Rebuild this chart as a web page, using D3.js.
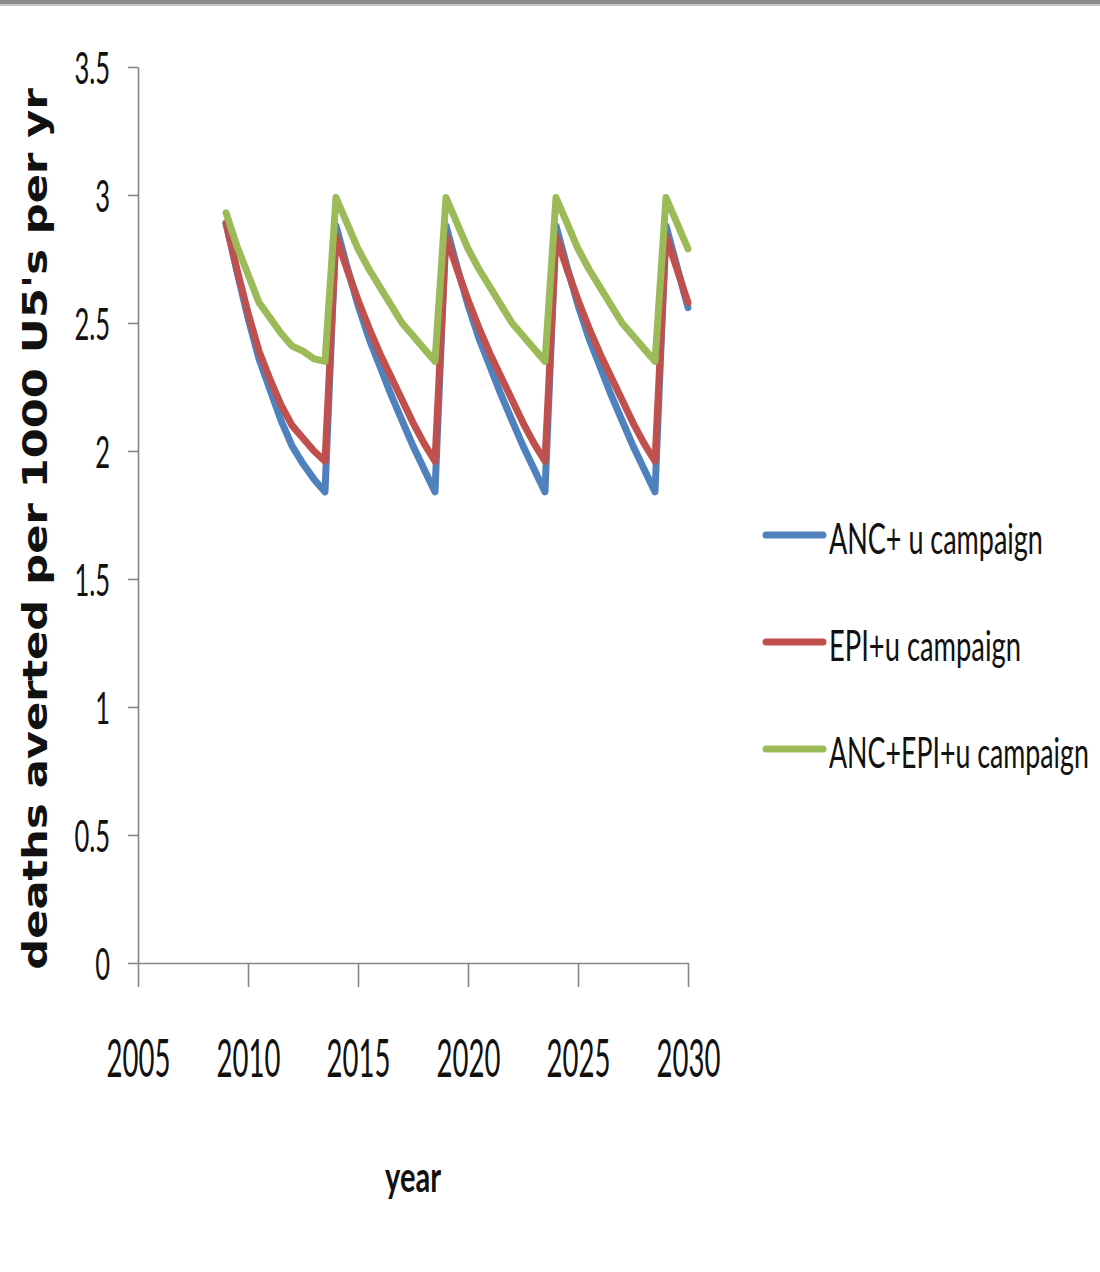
<!DOCTYPE html>
<html>
<head>
<meta charset="utf-8">
<script src="https://cdn.jsdelivr.net/npm/d3@7/dist/d3.min.js"></script>
<style>
  html, body { margin: 0; padding: 0; background: #fff; }
  svg { display: block; }
</style>
</head>
<body>
<svg id="chart" width="1100" height="1272"></svg>
<script>
// ---- data ----
const years = [2009, 2009.5, 2010, 2010.5, 2011, 2011.5, 2012, 2012.5, 2013, 2013.5,
               2014, 2014.5, 2015, 2015.5, 2016, 2016.5, 2017, 2017.5, 2018, 2018.5,
               2019, 2019.5, 2020, 2020.5, 2021, 2021.5, 2022, 2022.5, 2023, 2023.5,
               2024, 2024.5, 2025, 2025.5, 2026, 2026.5, 2027, 2027.5, 2028, 2028.5,
               2029, 2029.5, 2030];
const ancValues = [2.89, 2.70, 2.52, 2.36, 2.24, 2.12, 2.02, 1.95, 1.89, 1.84,
                   2.88, 2.72, 2.57, 2.44, 2.33, 2.22, 2.12, 2.02, 1.93, 1.84,
                   2.88, 2.72, 2.57, 2.44, 2.33, 2.22, 2.12, 2.02, 1.93, 1.84,
                   2.88, 2.72, 2.57, 2.44, 2.33, 2.22, 2.12, 2.02, 1.93, 1.84,
                   2.88, 2.72, 2.56];
const epiValues = [2.89, 2.71, 2.54, 2.39, 2.28, 2.18, 2.10, 2.05, 2.00, 1.96,
                   2.84, 2.71, 2.59, 2.48, 2.38, 2.29, 2.20, 2.11, 2.03, 1.96,
                   2.84, 2.71, 2.59, 2.48, 2.38, 2.29, 2.20, 2.11, 2.03, 1.96,
                   2.84, 2.71, 2.59, 2.48, 2.38, 2.29, 2.20, 2.11, 2.03, 1.96,
                   2.84, 2.71, 2.58];
const bothValues = [2.93, 2.80, 2.69, 2.58, 2.52, 2.46, 2.41, 2.39, 2.36, 2.35,
                    2.99, 2.89, 2.79, 2.71, 2.64, 2.57, 2.50, 2.45, 2.40, 2.35,
                    2.99, 2.89, 2.79, 2.71, 2.64, 2.57, 2.50, 2.45, 2.40, 2.35,
                    2.99, 2.89, 2.79, 2.71, 2.64, 2.57, 2.50, 2.45, 2.40, 2.35,
                    2.99, 2.89, 2.79];
const seriesNames = ["ANC+ u campaign", "EPI+u campaign", "ANC+EPI+u campaign"];
const seriesColors = ["#4F81BD", "#C0504D", "#9BBB59"];
const xTicks = [2005, 2010, 2015, 2020, 2025, 2030];
const yTicks = [0, 0.5, 1, 1.5, 2, 2.5, 3, 3.5];
const yTickLabels = ["0", "0.5", "1", "1.5", "2", "2.5", "3", "3.5"];
const xTitle = "year";
const yTitle = "deaths averted per 1000 U5's per yr";

// ---- chart ----
const svg = d3.select("#chart");
const axisColor = "#868686";
const labelFont = "Lato, 'Open Sans', sans-serif";

// fit a text horizontally to a target width by scaling its glyphs
function fitText(sel, tx, ty, width, rotate) {
  const natural = sel.node().getComputedTextLength();
  const sx = width / natural;
  sel.attr("transform", `translate(${tx},${ty})` + (rotate ? ` rotate(${rotate})` : "") + ` scale(${sx},1)`);
}

// top frame band
svg.append("rect").attr("x", 0).attr("y", 0).attr("width", 1100).attr("height", 4.5).attr("fill", "#8c8c8c");
svg.append("rect").attr("x", 0).attr("y", 4.5).attr("width", 1100).attr("height", 1.5).attr("fill", "#c8c8c8");

const x = d3.scaleLinear().domain([2005, 2030]).range([138, 688]);
const y = d3.scaleLinear().domain([0, 3.5]).range([963, 67]);

// y axis
const yAxis = svg.append("g").attr("transform", "translate(138,0)")
  .call(d3.axisLeft(y).tickValues(yTicks).tickSize(10).tickSizeOuter(0)
        .tickFormat((d, i) => yTickLabels[i]));
yAxis.select(".domain").attr("stroke", axisColor).attr("stroke-width", 1.6);
yAxis.selectAll(".tick line").attr("stroke", axisColor).attr("stroke-width", 1.6);
yAxis.selectAll(".tick text")
  .attr("x", null).attr("dy", null)
  .attr("text-anchor", "end")
  .attr("font-family", labelFont)
  .attr("font-size", 44)
  .attr("fill", "#111")
  .attr("transform", "translate(-28,16) scale(0.58,1)");

// x axis
const xAxis = svg.append("g").attr("transform", "translate(0,963)")
  .call(d3.axisBottom(x).tickValues(xTicks).tickSize(24).tickSizeOuter(0)
        .tickFormat(d3.format("d")));
xAxis.select(".domain").attr("stroke", axisColor).attr("stroke-width", 1.6);
xAxis.selectAll(".tick line").attr("stroke", axisColor).attr("stroke-width", 1.6);
xAxis.selectAll(".tick text")
  .attr("y", null).attr("dy", null)
  .attr("text-anchor", "middle")
  .attr("font-family", labelFont)
  .attr("font-size", 53)
  .attr("fill", "#111")
  .attr("transform", "translate(0,114) scale(0.52,1)");

// lines
const allSeries = [ancValues, epiValues, bothValues];
const line = d3.line().x((d, i) => x(years[i])).y(d => y(d));
svg.append("g").selectAll("path").data(allSeries).join("path")
  .attr("d", d => line(d))
  .attr("fill", "none")
  .attr("stroke", (d, i) => seriesColors[i])
  .attr("stroke-width", 7)
  .attr("stroke-linejoin", "round")
  .attr("stroke-linecap", "round");

// legend
const legendY = [535, 642, 749];
const legendTextWidths = [214, 192, 260];
const lg = svg.append("g");
seriesNames.forEach((name, i) => {
  lg.append("line")
    .attr("x1", 766).attr("x2", 823)
    .attr("y1", legendY[i]).attr("y2", legendY[i])
    .attr("stroke", seriesColors[i]).attr("stroke-width", 7).attr("stroke-linecap", "round");
  const t = lg.append("text")
    .attr("font-family", labelFont)
    .attr("font-size", 43)
    .attr("fill", "#111")
    .text(name);
  fitText(t, 829, legendY[i] + 19, legendTextWidths[i]);
});

// axis titles
const xt = svg.append("text")
  .attr("text-anchor", "middle")
  .attr("font-family", labelFont)
  .attr("font-weight", 700)
  .attr("font-size", 42)
  .attr("fill", "#111")
  .text(xTitle);
fitText(xt, 413, 1192, 56);

const yt = svg.append("text")
  .attr("text-anchor", "middle")
  .attr("font-family", "'DejaVu Sans', sans-serif")
  .attr("font-weight", "bold")
  .attr("font-size", 33)
  .attr("fill", "#111")
  .text(yTitle);
fitText(yt, 47, 529, 882, -90);
</script>
</body>
</html>
